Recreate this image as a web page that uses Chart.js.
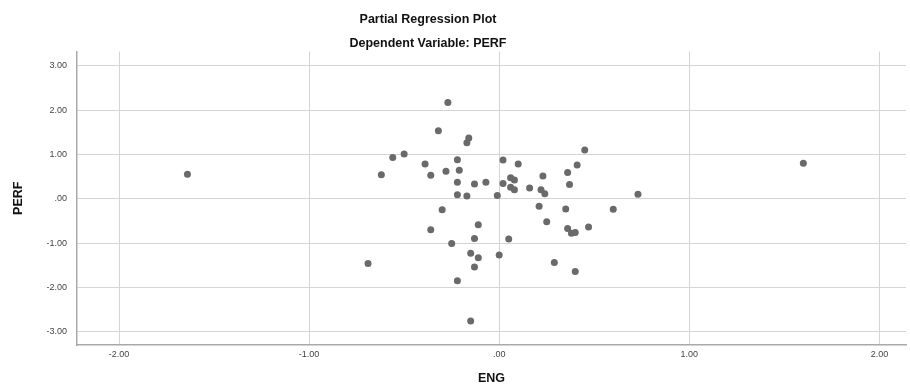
<!DOCTYPE html>
<html>
<head>
<meta charset="utf-8">
<title>Partial Regression Plot</title>
<script src="https://cdn.jsdelivr.net/npm/chart.js@4/dist/chart.umd.min.js"></script>
<style>
  html, body { margin: 0; padding: 0; background: #fff; overflow: hidden; }
  /* the frame is wider than the window on the left, so the titles sit left of centre */
  #wrap { width: 964px; height: 387px; margin-left: -54px; }
</style>
</head>
<body>
<div id="wrap"><canvas id="plot"></canvas></div>
<script>
// -------- Data --------
const chartTitle = "Partial Regression Plot";
const chartSubtitle = "Dependent Variable: PERF";
const xTitle = "ENG";
const yTitle = "PERF";

// residual pairs (ENG, PERF)
const engValues = [
  -1.64, 1.60, -0.27, -0.32, -0.16, -0.17, 0.45, -0.56, -0.50, -0.39,
  -0.22, 0.02, 0.10, 0.41, -0.62, -0.36, -0.28, -0.21, 0.36, 0.23,
  -0.22, -0.13, -0.07, 0.02, 0.06, 0.08, 0.06, 0.08, 0.16, 0.37,
  0.22, 0.24, -0.22, -0.17, -0.01, 0.73, -0.30, 0.21, 0.35, 0.60,
  0.25, -0.36, -0.11, 0.36, 0.38, 0.40, 0.47, -0.25, -0.13, 0.05,
  -0.15, -0.11, 0.00, -0.13, 0.29, 0.40, -0.22, -0.69, -0.15
];
const perfValues = [
  0.55, 0.80, 2.17, 1.53, 1.37, 1.26, 1.10, 0.93, 1.01, 0.78,
  0.88, 0.87, 0.78, 0.76, 0.54, 0.53, 0.62, 0.64, 0.59, 0.51,
  0.37, 0.33, 0.37, 0.34, 0.47, 0.42, 0.26, 0.20, 0.24, 0.32,
  0.20, 0.11, 0.09, 0.06, 0.07, 0.10, -0.25, -0.17, -0.23, -0.24,
  -0.52, -0.70, -0.59, -0.67, -0.78, -0.76, -0.64, -1.01, -0.90, -0.91,
  -1.23, -1.33, -1.27, -1.54, -1.44, -1.64, -1.85, -1.46, -2.76
];

const xTicks = [-2, -1, 0, 1, 2];
const xTickLabels = ["-2.00", "-1.00", ".00", "1.00", "2.00"];
const yTicks = [-3, -2, -1, 0, 1, 2, 3];
const yTickLabels = ["-3.00", "-2.00", "-1.00", ".00", "1.00", "2.00", "3.00"];


// -------- Chart --------
const points = engValues.map((x, i) => ({ x: x, y: perfValues[i] }));

const fontFamily = "'Liberation Sans', Arial, sans-serif";
const tickFont = { family: fontFamily, size: 9 };
const titleFont = { family: fontFamily, size: 12.5, weight: "bold" };

function labelFor(ticks, labels) {
    return (value) => {
        const i = ticks.indexOf(Math.round(value * 100) / 100);
        return i >= 0 ? labels[i] : "";
    };
}

new Chart(document.getElementById("plot"), {
    type: "scatter",
    data: {
        datasets: [{
            data: points,
            backgroundColor: "#6a6a6a",
            borderColor: "#6a6a6a",
            borderWidth: 0,
            pointRadius: 3.5
        }]
    },
    options: {
        responsive: true,
        maintainAspectRatio: false,
        animation: false,
        layout: { padding: 0 },
        plugins: {
            legend: { display: false },
            tooltip: { enabled: false },
            title: {
                display: true,
                text: chartTitle,
                color: "#111",
                font: titleFont,
                padding: { top: 12.5, bottom: 0 }
            },
            subtitle: {
                display: true,
                text: chartSubtitle,
                color: "#111",
                font: titleFont,
                padding: { top: 9, bottom: 0 }
            }
        },
        scales: {
            x: {
                type: "linear",
                min: -2.221,
                max: 2.14,
                afterBuildTicks: (scale) => { scale.ticks = xTicks.map(v => ({ value: v })); },
                afterFit: (scale) => {
                    scale.height = 42;
                    scale.paddingLeft = 0;
                    scale.paddingRight = 0;
                },
                grid: { color: "#d4d4d4", lineWidth: 1, drawTicks: false },
                border: { color: "#a9a9a9", width: 1.5 },
                ticks: {
                    font: tickFont,
                    color: "#444",
                    padding: 4,
                    maxRotation: 0,
                    callback: labelFor(xTicks, xTickLabels)
                },
                title: {
                    display: true,
                    text: xTitle,
                    color: "#111",
                    font: titleFont,
                    padding: { top: 0, bottom: 1 }
                }
            },
            y: {
                type: "linear",
                min: -3.3,
                max: 3.32,
                afterBuildTicks: (scale) => { scale.ticks = yTicks.map(v => ({ value: v })); },
                afterFit: (scale) => {
                    scale.width = 131;
                    scale.paddingTop = 0;
                    scale.paddingBottom = 0;
                },
                grid: { color: "#d4d4d4", lineWidth: 1, drawTicks: false },
                border: { color: "#a9a9a9", width: 1.5 },
                ticks: {
                    font: tickFont,
                    color: "#444",
                    padding: 10,
                    callback: labelFor(yTicks, yTickLabels)
                },
                title: {
                    display: true,
                    text: yTitle,
                    color: "#111",
                    font: titleFont,
                    padding: { top: 65, bottom: 0 }
                }
            }
        }
    }
});
</script>
</body>
</html>
